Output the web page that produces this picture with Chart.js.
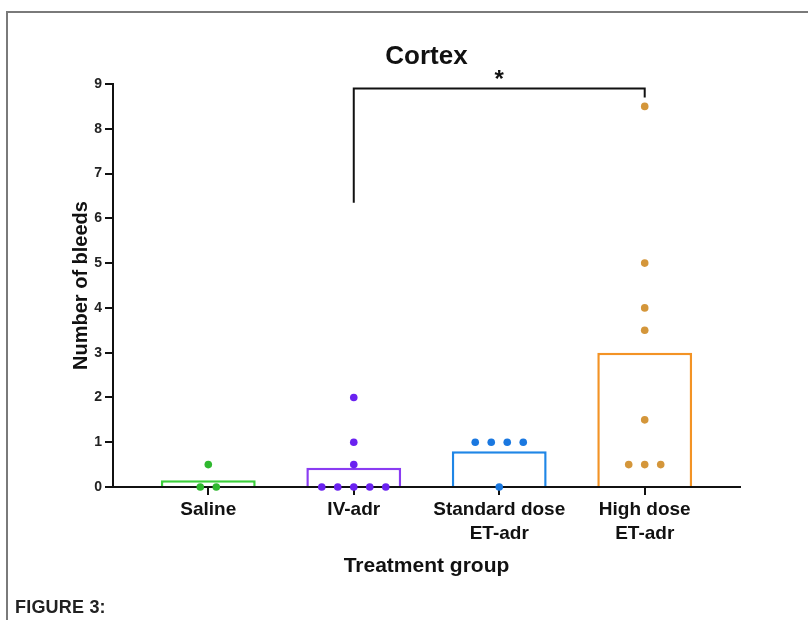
<!DOCTYPE html>
<html>
<head>
<meta charset="utf-8">
<script src="https://cdn.jsdelivr.net/npm/chart.js@4.4.1/dist/chart.umd.min.js"></script>
<style>
  html, body { margin: 0; padding: 0; background: #fff; }
  #wrap { position: relative; width: 808px; height: 620px; overflow: hidden; }
  #frame { position: absolute; left: 6px; top: 11px; width: 900px; height: 700px;
           border-left: 2px solid #7a7a7a; border-top: 2px solid #7a7a7a; }
  #fig { position: absolute; left: 15px; top: 597px; font-family: "Liberation Sans Narrow", "Liberation Sans", Arial, sans-serif;
         font-weight: bold; font-size: 18px; color: #222; letter-spacing: 0.2px; }
  canvas { position: absolute; left: 0; top: 0; }
</style>
</head>
<body>
<div id="wrap">
  <div id="frame"></div>
  <canvas id="c" width="808" height="620"></canvas>
  <div id="fig">FIGURE 3:</div>
</div>
<script>
// ---- data ----
const chartTitle = 'Cortex';
const categories = ['Saline', 'IV-adr', ['Standard dose', 'ET-adr'], ['High dose', 'ET-adr']];
const groupMeans = [0.15, 0.43, 0.8, 3.0];
const salinePoints = [0.5, 0, 0];
const ivAdrPoints = [2, 1, 0.5, 0, 0, 0, 0, 0];
const standardPoints = [1, 1, 1, 1, 0];
const highDosePoints = [8.5, 5, 4, 3.5, 1.5, 0.5, 0.5, 0.5];
const yTicks = [0, 1, 2, 3, 4, 5, 6, 7, 8, 9];
const bracketX = [1, 1, 3, 3];
const bracketY = [6.35, 8.9, 8.9, 8.7];
const bracketLabel = '*';

// ---- styling ----
const barColors = ['#3ccf3c', '#8a3cf2', '#1f86e6', '#f39325'];
const pointColors = ['#2fb82f', '#6a22f0', '#1a78e0', '#d4963a'];
const FONT = '"Liberation Sans", Arial, sans-serif';

// simple beeswarm: equal values are spread side by side around the category
function swarm(values, idx, step) {
  const counts = {}, seen = {};
  values.forEach(v => counts[v] = (counts[v] || 0) + 1);
  return values.map(v => {
    const n = counts[v];
    const k = seen[v] = (seen[v] === undefined ? 0 : seen[v] + 1);
    return { x: idx + (k - (n - 1) / 2) * step, y: v };
  });
}
const pointGroups = [salinePoints, ivAdrPoints, standardPoints, highDosePoints];

const pointDatasets = pointGroups.map((vals, i) => ({
  type: 'scatter',
  data: swarm(vals, i, 0.11),
  backgroundColor: pointColors[i],
  borderColor: pointColors[i],
  pointRadius: 3.8,
  borderWidth: 0,
  clip: false,
  order: 0
}));

const overlayPlugin = {
  id: 'overlay',
  afterDraw(chart) {
    const { ctx, chartArea, scales } = chart;
    ctx.save();
    ctx.fillStyle = '#111';
    ctx.textAlign = 'center';
    ctx.textBaseline = 'middle';
    ctx.font = 'bold 26px ' + FONT;
    ctx.fillText(chartTitle, (chartArea.left + chartArea.right) / 2, 57);
    ctx.font = 'bold 24px ' + FONT;
    ctx.textBaseline = 'alphabetic';
    ctx.fillText(bracketLabel, scales.x.getPixelForValue((bracketX[0] + bracketX[3]) / 2), scales.y.getPixelForValue(bracketY[1]) - 1);
    ctx.restore();
  }
};

new Chart(document.getElementById('c'), {
  type: 'scatter',
  data: {
    datasets: [
      ...pointDatasets,
      {
        type: 'line',
        data: bracketX.map((x, i) => ({ x, y: bracketY[i] })),
        borderColor: '#111',
        borderWidth: 2,
        pointRadius: 0,
        fill: false,
        tension: 0,
        clip: false,
        order: 1
      },
      {
        type: 'bar',
        data: groupMeans.map((m, i) => ({ x: i, y: m })),
        backgroundColor: '#ffffff',
        borderColor: barColors,
        borderWidth: 2.5,
        categoryPercentage: 1,
        barPercentage: 0.652,
        order: 2
      }
    ]
  },
  options: {
    responsive: false,
    animation: false,
    events: [],
    layout: { padding: { left: 0, top: 84, right: 68, bottom: 0 } },
    plugins: { legend: { display: false }, tooltip: { enabled: false }, title: { display: false } },
    scales: {
      x: {
        type: 'linear',
        min: -0.655,
        max: 3.655,
        offset: false,
        afterBuildTicks(scale) { scale.ticks = categories.map((c, i) => ({ value: i })); },
        afterFit(scale) { scale.height = 133; },
        ticks: {
          callback: (v) => categories[v],
          color: '#111',
          font: { family: FONT, size: 19, weight: 'bold', lineHeight: 1.25 },
          padding: 3,
          maxRotation: 0,
          autoSkip: false
        },
        grid: { display: true, offset: false, drawOnChartArea: false, drawTicks: true, tickLength: 8, color: '#111', lineWidth: 2 },
        border: { display: true, color: '#111', width: 2 },
        title: {
          display: true,
          text: 'Treatment group',
          color: '#111',
          font: { family: FONT, size: 21, weight: 'bold' },
          padding: { top: 0, bottom: 41 }
        }
      },
      y: {
        type: 'linear',
        min: 0,
        max: 9,
        afterBuildTicks(scale) { scale.ticks = yTicks.map(v => ({ value: v })); },
        afterFit(scale) { scale.width = 113; },
        ticks: {
          color: '#222',
          font: { family: FONT, size: 14, weight: 'bold' },
          padding: 3
        },
        grid: { display: true, offset: false, drawOnChartArea: false, drawTicks: true, tickLength: 8, color: '#111', lineWidth: 2 },
        border: { display: true, color: '#111', width: 2 },
        title: {
          display: true,
          text: 'Number of bleeds',
          color: '#111',
          font: { family: FONT, size: 20, weight: 'bold' },
          padding: { top: 69, bottom: 0 }
        }
      }
    }
  },
  plugins: [overlayPlugin]
});
</script>
</body>
</html>
